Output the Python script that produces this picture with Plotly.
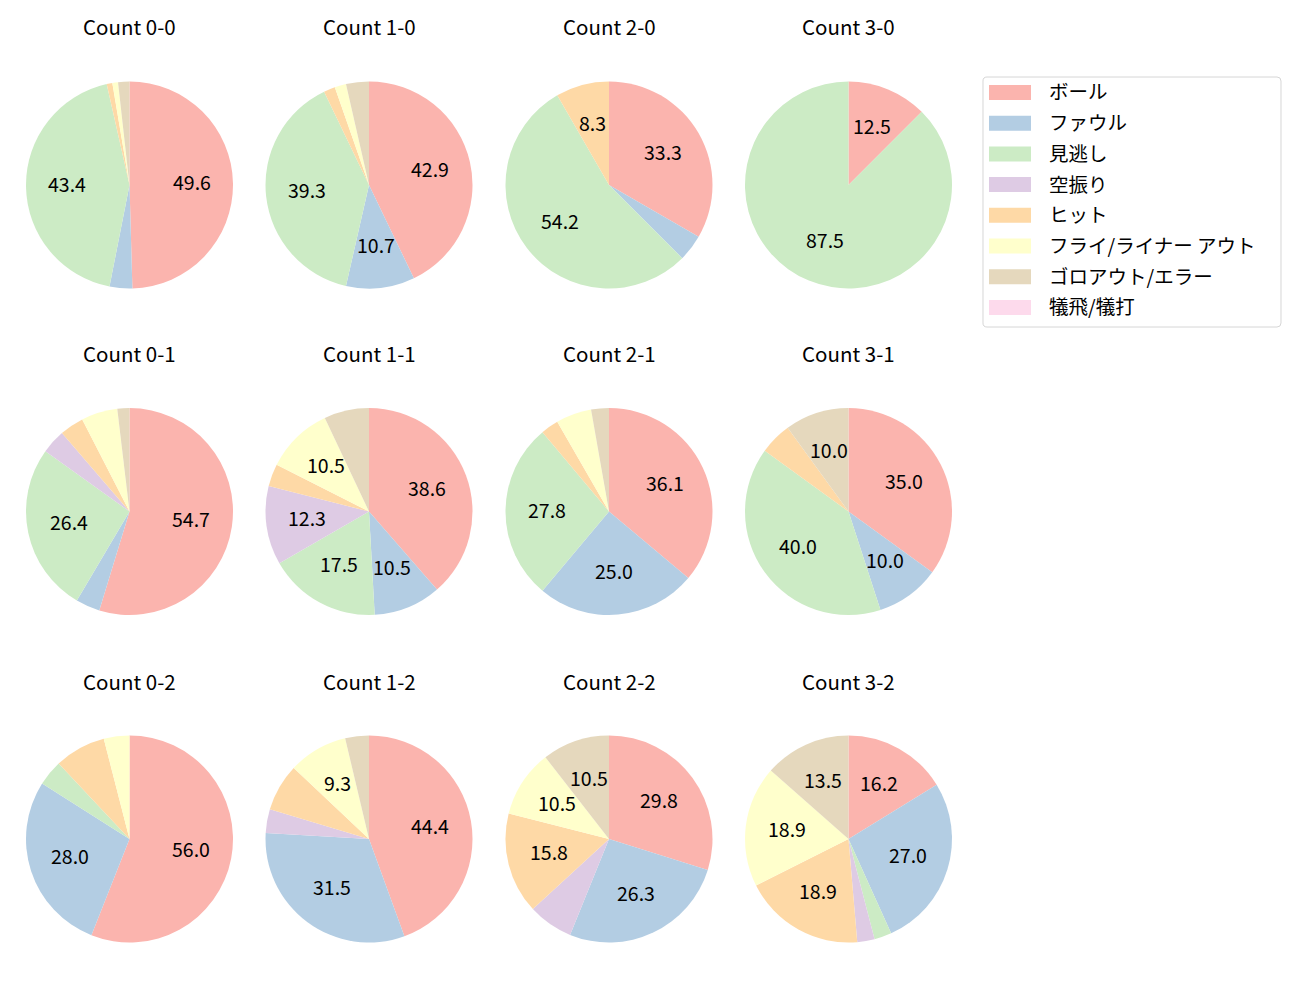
import numpy as np
import plotly.graph_objects as go

# ---- data ----
counts = ["0-0", "1-0", "2-0", "3-0",
          "0-1", "1-1", "2-1", "3-1",
          "0-2", "1-2", "2-2", "3-2"]
categories = ["ボール", "ファウル", "見逃し", "空振り", "ヒット",
              "フライ/ライナー アウト", "ゴロアウト/エラー", "犠飛/犠打"]
ball  = [56, 24, 8, 1, 29, 22, 13, 7, 14, 24, 17, 6]
foul  = [4, 6, 1, 0, 2, 6, 9, 2, 7, 17, 15, 10]
miss  = [49, 22, 13, 7, 14, 10, 10, 8, 1, 0, 0, 1]
swing = [0, 0, 0, 0, 2, 7, 0, 0, 0, 2, 4, 1]
hit   = [1, 1, 2, 0, 2, 2, 1, 1, 2, 4, 9, 7]
fly   = [1, 1, 0, 0, 3, 6, 2, 0, 1, 5, 6, 7]
goro  = [2, 2, 0, 0, 1, 4, 1, 2, 0, 2, 6, 5]
sac   = [0, 0, 0, 0, 0, 0, 0, 0, 0, 0, 0, 0]
series = [ball, foul, miss, swing, hit, fly, goro, sac]

colors = ["#fbb4ae", "#b3cde3", "#ccebc5", "#decbe4",
          "#fed9a6", "#ffffcc", "#e5d8bd", "#fddaec"]

W, H = 1300, 1000
FONT = "Noto Sans CJK JP"
col_cx = [129.5, 369.0, 609.0, 848.5]
row_cy = [185.0, 511.5, 839.0]
R = 103.5

fig = go.Figure()
annotations = []
shapes = []

for i, cname in enumerate(counts):
    r, c = divmod(i, 4)
    cx, cy = col_cx[c], row_cy[r]
    vals = np.array([s[i] for s in series], dtype=float)
    total = vals.sum()
    fig.add_trace(go.Pie(
        labels=categories, values=vals, sort=False, direction="clockwise",
        rotation=0, marker=dict(colors=colors, line=dict(width=0)),
        textinfo="none", hoverinfo="label+percent", showlegend=False,
        domain=dict(x=[(cx - R) / W, (cx + R) / W],
                    y=[1 - (cy + R) / H, 1 - (cy - R) / H]),
    ))
    # percentage labels at 0.6 radius, mid-angle of each wedge
    cum = np.cumsum(vals) - vals / 2
    for v, m in zip(vals, cum):
        pct = 100 * v / total
        if pct <= 8.1:
            continue
        ang = np.deg2rad(90 - 360 * m / total)
        px = cx + 0.6 * R * np.cos(ang)
        py = cy - 0.6 * R * np.sin(ang) - 2.5
        annotations.append(dict(
            x=px / W, y=1 - py / H, xref="paper", yref="paper",
            text=f"{pct:.1f}", showarrow=False,
            font=dict(family=FONT, size=19.5, color="#000000"),
            xanchor="center", yanchor="middle"))
    annotations.append(dict(
        x=cx / W, y=1 - (cy - 158.5) / H, xref="paper", yref="paper",
        text=f"Count {cname}", showarrow=False,
        font=dict(family=FONT, size=20.5, color="#000000"),
        xanchor="center", yanchor="middle"))

# ---- manual legend ----
lx0, lx1, ly0, ly1 = 983, 1281, 77, 327
rad = 4
def P(x, y):
    return f"{x / W:.5f},{1 - y / H:.5f}"
path = (f"M {P(lx0 + rad, ly0)} L {P(lx1 - rad, ly0)} "
        f"Q {P(lx1, ly0)} {P(lx1, ly0 + rad)} L {P(lx1, ly1 - rad)} "
        f"Q {P(lx1, ly1)} {P(lx1 - rad, ly1)} L {P(lx0 + rad, ly1)} "
        f"Q {P(lx0, ly1)} {P(lx0, ly1 - rad)} L {P(lx0, ly0 + rad)} "
        f"Q {P(lx0, ly0)} {P(lx0 + rad, ly0)} Z")
shapes.append(dict(type="path", path=path, xref="paper", yref="paper",
                   line=dict(color="#d6d6d6", width=1), fillcolor="white"))
for k, (lab, col) in enumerate(zip(categories, colors)):
    yc = 92.5 + 30.7 * k
    shapes.append(dict(type="rect", xref="paper", yref="paper",
                       x0=989 / W, x1=1031 / W,
                       y0=1 - (yc + 7.5) / H, y1=1 - (yc - 7.5) / H,
                       fillcolor=col, line=dict(width=0)))
    annotations.append(dict(
        x=1047 / W, y=1 - (yc - 1.5) / H, xref="paper", yref="paper",
        text=lab, showarrow=False, xanchor="left", yanchor="middle",
        font=dict(family=FONT, size=19.5, color="#000000")))

fig.update_layout(
    width=W, height=H, autosize=False,
    margin=dict(l=0, r=0, t=0, b=0),
    paper_bgcolor="white", plot_bgcolor="white",
    annotations=annotations, shapes=shapes,
    font=dict(family=FONT),
)
fig.write_html("out.html")
